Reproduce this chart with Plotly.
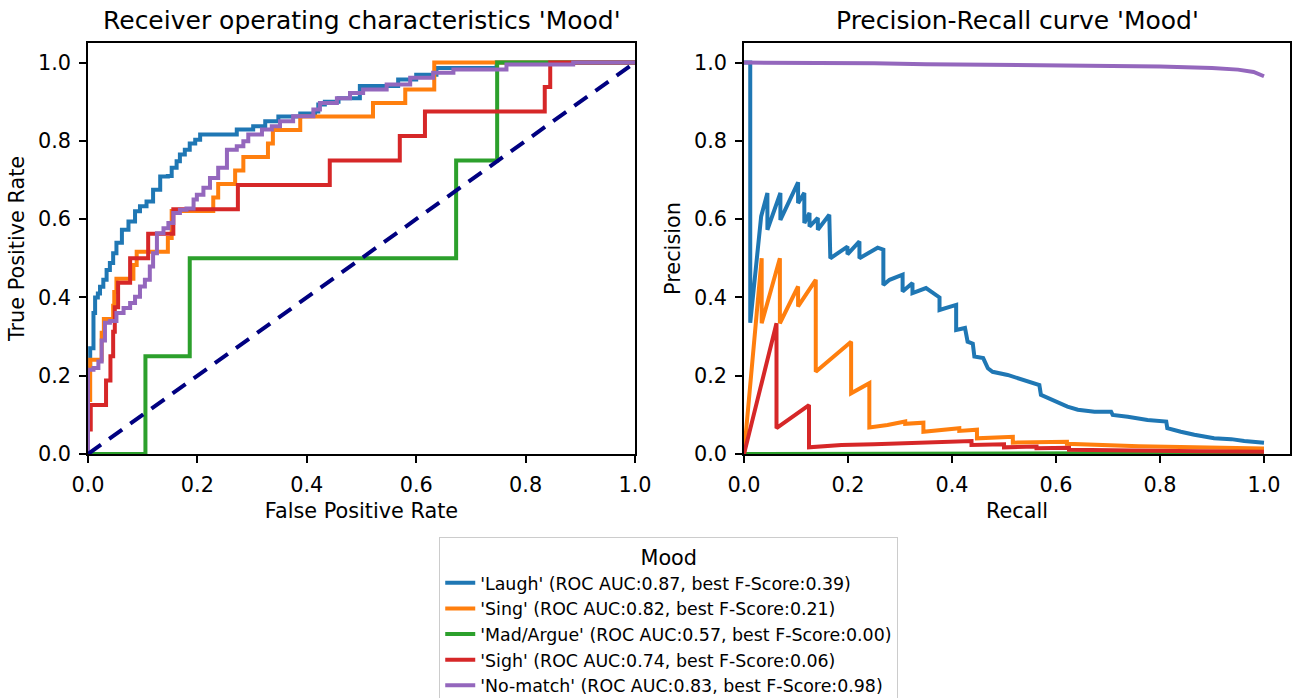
import plotly.graph_objects as go

# ---------------- data ----------------
labels = ["'Laugh' (ROC AUC:0.87, best F-Score:0.39)",
          "'Sing' (ROC AUC:0.82, best F-Score:0.21)",
          "'Mad/Argue' (ROC AUC:0.57, best F-Score:0.00)",
          "'Sigh' (ROC AUC:0.74, best F-Score:0.06)",
          "'No-match' (ROC AUC:0.83, best F-Score:0.98)"]
colors = ["#1f77b4", "#ff7f0e", "#2ca02c", "#d62728", "#9467bd"]

# ROC corner points (step: horizontal then vertical)
laugh_fpr = [0, 0, 0.004, 0.01, 0.013, 0.018, 0.022, 0.028, 0.034, 0.040, 0.046, 0.052, 0.062, 0.074,
             0.086, 0.095, 0.107, 0.119, 0.132, 0.146, 0.153, 0.162, 0.168, 0.177, 0.186, 0.196, 0.205,
             0.272, 0.302, 0.324, 0.348, 0.388, 0.415, 0.421, 0.433, 0.458, 0.497, 0.567, 0.60, 0.637,
             0.747, 1.0]
laugh_tpr = [0, 0.22, 0.27, 0.36, 0.40, 0.41, 0.427, 0.445, 0.47, 0.488, 0.513, 0.54, 0.573, 0.594,
             0.62, 0.633, 0.645, 0.675, 0.709, 0.71, 0.731, 0.748, 0.765, 0.777, 0.793, 0.803, 0.816,
             0.829, 0.837, 0.85, 0.862, 0.87, 0.875, 0.893, 0.90, 0.909, 0.94, 0.957, 0.969, 0.986,
             1.0, 1.0]

sing_fpr = [0, 0, 0.004, 0.025, 0.029, 0.046, 0.048, 0.052, 0.083, 0.089, 0.146, 0.153, 0.229, 0.238,
            0.269, 0.284, 0.329, 0.338, 0.388, 0.521, 0.580, 0.633, 1.0]
sing_tpr = [0, 0.138, 0.241, 0.310, 0.345, 0.379, 0.414, 0.448, 0.483, 0.517, 0.552, 0.621, 0.655, 0.690,
            0.724, 0.759, 0.793, 0.828, 0.862, 0.897, 0.931, 1.0, 1.0]

mad_fpr = [0, 0.105, 0.186, 0.673, 0.748, 1.0]
mad_tpr = [0, 0.25, 0.5, 0.75, 1.0, 1.0]

sigh_fpr = [0, 0, 0.005, 0.033, 0.041, 0.046, 0.049, 0.055, 0.077, 0.110, 0.156, 0.274, 0.442, 0.570,
            0.616, 0.835, 0.845, 1.0]
sigh_tpr = [0, 0.0625, 0.125, 0.1875, 0.25, 0.3125, 0.375, 0.4375, 0.5, 0.5625, 0.625, 0.6875, 0.75,
            0.8125, 0.875, 0.9375, 1.0, 1.0]

nomatch_fpr = [0, 0, 0.01, 0.019, 0.025, 0.031, 0.04, 0.052, 0.065, 0.077, 0.086, 0.095, 0.104, 0.113,
               0.119, 0.126, 0.138, 0.147, 0.156, 0.168, 0.180, 0.193, 0.199, 0.211, 0.223, 0.238, 0.254,
               0.272, 0.284, 0.293, 0.318, 0.336, 0.351, 0.375, 0.412, 0.424, 0.455, 0.479, 0.503, 0.546,
               0.589, 0.631, 0.668, 0.765, 0.887, 1.0]
nomatch_tpr = [0, 0.215, 0.22, 0.236, 0.29, 0.335, 0.34, 0.36, 0.373, 0.386, 0.402, 0.428, 0.445, 0.479,
               0.513, 0.564, 0.577, 0.59, 0.616, 0.624, 0.627, 0.65, 0.662, 0.68, 0.705, 0.731, 0.777,
               0.786, 0.799, 0.816, 0.829, 0.837, 0.85, 0.863, 0.88, 0.897, 0.909, 0.922, 0.931, 0.944,
               0.961, 0.974, 0.982, 0.995, 1.0, 1.0]

chance_x = [0, 1]
chance_y = [0, 1]

# Precision-recall points
laugh_rec = [0.0, 0.012, 0.012, 0.033, 0.045, 0.045, 0.07, 0.07, 0.104, 0.104, 0.116, 0.116, 0.126,
             0.126, 0.142, 0.142, 0.164, 0.166, 0.199, 0.199, 0.222, 0.222, 0.257, 0.268, 0.268, 0.28,
             0.305, 0.305, 0.324, 0.324, 0.35, 0.365, 0.376, 0.376, 0.408, 0.408, 0.425, 0.43, 0.44,
             0.443, 0.46, 0.469, 0.478, 0.507, 0.536, 0.568, 0.571, 0.594, 0.622, 0.642, 0.674, 0.706,
             0.709, 0.738, 0.776, 0.812, 0.814, 0.84, 0.866, 0.904, 0.937, 0.962, 0.988, 1.0]
laugh_prec = [1.0, 1.0, 0.335, 0.607, 0.667, 0.573, 0.667, 0.598, 0.694, 0.641, 0.667, 0.59, 0.616,
              0.581, 0.603, 0.573, 0.611, 0.50, 0.53, 0.51, 0.543, 0.50, 0.527, 0.522, 0.432, 0.445,
              0.458, 0.415, 0.437, 0.411, 0.424, 0.41, 0.40, 0.368, 0.381, 0.317, 0.322, 0.287, 0.282,
              0.249, 0.245, 0.219, 0.21, 0.202, 0.189, 0.176, 0.151, 0.138, 0.121, 0.113, 0.108, 0.108,
              0.10, 0.095, 0.087, 0.083, 0.066, 0.057, 0.049, 0.04, 0.038, 0.033, 0.031, 0.029]

sing_rec = [0, 0.034, 0.034, 0.069, 0.069, 0.104, 0.104, 0.138, 0.138, 0.206, 0.206, 0.241, 0.241, 0.276,
            0.310, 0.310, 0.345, 0.345, 0.414, 0.414, 0.448, 0.448, 0.517, 0.517, 0.621, 0.621, 0.759,
            0.862, 0.897, 1.0]
sing_prec = [0, 0.50, 0.334, 0.50, 0.334, 0.428, 0.377, 0.445, 0.21, 0.287, 0.155, 0.181, 0.068, 0.074,
             0.083, 0.077, 0.080, 0.057, 0.066, 0.059, 0.062, 0.04, 0.044, 0.029, 0.031, 0.026, 0.02,
             0.017, 0.016, 0.014]

mad_rec = [0, 0.25, 0.5, 0.75, 1.0]
mad_prec = [0, 0.001, 0.002, 0.0025, 0.003]

sigh_rec = [0, 0.0625, 0.0625, 0.125, 0.125, 0.1875, 0.25, 0.3125, 0.375, 0.4375, 0.4375, 0.5, 0.5,
            0.5625, 0.5625, 0.625, 0.625, 0.75, 0.875, 1.0]
sigh_prec = [0, 0.334, 0.066, 0.125, 0.017, 0.023, 0.025, 0.028, 0.031, 0.033, 0.023, 0.025, 0.017,
             0.019, 0.015, 0.016, 0.011, 0.008, 0.007, 0.006]

nomatch_rec = [0, 0.2, 0.25, 0.35, 0.5, 0.6, 0.7, 0.8, 0.9, 0.95, 0.98, 1.0]
nomatch_prec = [1.0, 1.0, 0.998, 0.996, 0.994, 0.993, 0.992, 0.99, 0.986, 0.982, 0.976, 0.965]

tick_vals = [0.0, 0.2, 0.4, 0.6, 0.8, 1.0]
tick_text = ["0.0", "0.2", "0.4", "0.6", "0.8", "1.0"]

roc = [(laugh_fpr, laugh_tpr), (sing_fpr, sing_tpr), (mad_fpr, mad_tpr),
       (sigh_fpr, sigh_tpr), (nomatch_fpr, nomatch_tpr)]
pr = [(laugh_rec, laugh_prec), (sing_rec, sing_prec), (mad_rec, mad_prec),
      (sigh_rec, sigh_prec), (nomatch_rec, nomatch_prec)]

# ---------------- figure ----------------
FONT = "DejaVu Sans"
W, H = 1296, 698
LW = 4

fig = go.Figure()
for (x, y), lab, c in zip(roc, labels, colors):
    fig.add_trace(go.Scatter(x=x, y=y, mode="lines", line=dict(color=c, width=LW, shape="hv"),
                             name=lab, xaxis="x", yaxis="y"))
fig.add_trace(go.Scatter(x=chance_x, y=chance_y, mode="lines",
                         line=dict(color="#000080", width=LW, dash="16px,10px"),
                         showlegend=False, xaxis="x", yaxis="y"))
for (x, y), lab, c in zip(pr, labels, colors):
    fig.add_trace(go.Scatter(x=x, y=y, mode="lines", line=dict(color=c, width=LW),
                             name=lab, showlegend=False, xaxis="x2", yaxis="y2"))

def px_x(p):
    return p / W

def px_y(p):
    return (H - p) / H

axis_common = dict(showgrid=False, zeroline=False, showline=True, linecolor="black", linewidth=1.6,
                   mirror=True, ticks="outside", ticklen=7, tickwidth=1.6, tickcolor="black",
                   tickvals=tick_vals, ticktext=tick_text, automargin=False,
                   tickfont=dict(family=FONT, size=20.8, color="black"),
                   title_font=dict(family=FONT, size=20.8, color="black"))

fig.update_layout(
    width=W, height=H, margin=dict(l=0, r=0, t=0, b=0, autoexpand=False),
    paper_bgcolor="white", plot_bgcolor="white",
    font=dict(family=FONT, color="black"),
    xaxis=dict(domain=[px_x(88), px_x(635)], range=[0, 1], anchor="y",
               title=dict(text="False Positive Rate", standoff=8), ticklabelstandoff=4, **axis_common),
    yaxis=dict(domain=[px_y(454), px_y(43)], range=[0, 1.05], anchor="x",
               title=dict(text="True Positive Rate", standoff=8), ticklabelstandoff=4, **axis_common),
    xaxis2=dict(domain=[px_x(744), px_x(1290)], range=[0, 1.05], anchor="y2",
                title=dict(text="Recall", standoff=8), ticklabelstandoff=4, **axis_common),
    yaxis2=dict(domain=[px_y(454), px_y(43)], range=[0, 1.05], anchor="x2",
                title=dict(text="Precision", standoff=8), ticklabelstandoff=4, **axis_common),
    legend=dict(x=0.516, xanchor="center", y=px_y(537), yanchor="top",
                bordercolor="#cccccc", borderwidth=1, bgcolor="white", tracegroupgap=0,
                font=dict(family=FONT, size=17.4, color="black"),
                title=dict(text="Mood", side="top center",
                           font=dict(family=FONT, size=20.8, color="black"))),
    annotations=[
        dict(text="Receiver operating characteristics 'Mood'", x=(px_x(88) + px_x(635)) / 2,
             y=px_y(43), xref="paper", yref="paper", xanchor="center", yanchor="bottom",
             yshift=6, showarrow=False, font=dict(family=FONT, size=25, color="black")),
        dict(text="Precision-Recall curve 'Mood'", x=(px_x(744) + px_x(1290)) / 2,
             y=px_y(43), xref="paper", yref="paper", xanchor="center", yanchor="bottom",
             yshift=6, showarrow=False, font=dict(family=FONT, size=25, color="black")),
    ],
)

fig.write_html("out.html")
